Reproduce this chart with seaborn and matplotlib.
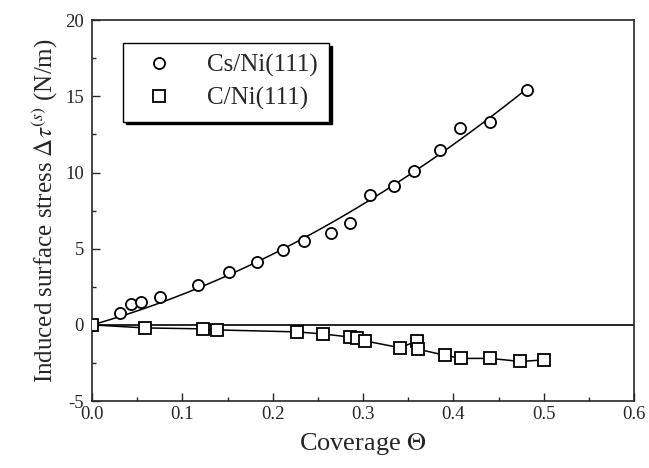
import matplotlib.pyplot as plt
import seaborn as sns
import pandas as pd
import numpy as np

# values
cs_x = [0.0, 0.031, 0.043, 0.054, 0.075, 0.117, 0.152, 0.182, 0.211, 0.235,
        0.264, 0.286, 0.308, 0.334, 0.356, 0.385, 0.407, 0.441, 0.481]
cs_y = [0.0, 0.8, 1.4, 1.5, 1.8, 2.6, 3.5, 4.1, 4.9, 5.5,
        6.0, 6.7, 8.5, 9.1, 10.1, 11.5, 12.9, 13.3, 15.4]

c_x = [0.0, 0.059, 0.123, 0.138, 0.227, 0.256, 0.286, 0.293, 0.302,
       0.341, 0.360, 0.361, 0.391, 0.408, 0.441, 0.474, 0.500]
c_y = [0.0, -0.2, -0.26, -0.33, -0.46, -0.6, -0.8, -0.85, -1.05,
       -1.5, -1.05, -1.6, -2.0, -2.2, -2.2, -2.4, -2.3]

cs = pd.DataFrame({'Coverage': cs_x, 'Stress': cs_y})
c = pd.DataFrame({'Coverage': c_x, 'Stress': c_y})

# least-squares fit through the origin (a*x + b*x^2) for the Cs data
xa = np.array(cs_x)
coef, *_ = np.linalg.lstsq(np.column_stack([xa, xa**2]), np.array(cs_y), rcond=None)
xf = np.linspace(0, max(cs_x), 100)
fit = pd.DataFrame({'Coverage': xf, 'Stress': coef[0] * xf + coef[1] * xf**2})

sns.set_style('ticks')
plt.rcParams['font.family'] = ['Liberation Serif', 'DejaVu Serif']
plt.rcParams['mathtext.fontset'] = 'stix'
plt.rcParams['axes.unicode_minus'] = False

fig = plt.figure(figsize=(6.49, 4.68), dpi=100)
ax = fig.add_axes([0.142, 0.143, 0.835, 0.814])

ax.axhline(0, color='black', lw=1.2, zorder=1)

# Cs: fit curve + open circles
sns.lineplot(x='Coverage', y='Stress', data=fit, ax=ax, color='black', lw=1.1,
             zorder=2)
ax.plot(cs['Coverage'], cs['Stress'], 'o', ms=8, mfc='white', mec='black',
        mew=1.3, label='Cs/Ni(111)', zorder=3)

# C: connected squares
sns.lineplot(x='Coverage', y='Stress', data=c, ax=ax, sort=False, estimator=None,
             color='black', lw=1.1, zorder=2)
ax.plot(c['Coverage'], c['Stress'], 's', ms=8, mfc='white', mec='black',
        mew=1.3, label='C/Ni(111)', zorder=3)

ax.set_xlim(0, 0.6)
ax.set_ylim(-5, 20)
ax.set_xticks([0.0, 0.1, 0.2, 0.3, 0.4, 0.5, 0.6])
ax.set_xticklabels(['0.0', '0.1', '0.2', '0.3', '0.4', '0.5', '0.6'])
ax.set_yticks([-5, 0, 5, 10, 15, 20])
ax.set_xticks([0.05, 0.15, 0.25, 0.35, 0.45, 0.55], minor=True)
ax.set_yticks([-2.5, 2.5, 7.5, 12.5, 17.5], minor=True)
ax.tick_params(which='both', direction='in', top=False, right=False, labelsize=13.5)
ax.tick_params(which='major', length=6, width=1)
ax.tick_params(which='minor', length=3, width=1)
ax.tick_params(axis='y', pad=6)
for s in ax.spines.values():
    s.set_linewidth(1.2)
    s.set_visible(True)

ax.set_xlabel('Coverage $\\Theta$', fontsize=19, labelpad=6)
ax.set_ylabel('Induced surface stress $\\Delta\\tau^{(s)}$ (N/m)', fontsize=18,
              labelpad=4)

ax.legend(loc='upper left', bbox_to_anchor=(0.057, 0.94), fontsize=18,
          frameon=True, fancybox=False, edgecolor='black', framealpha=1,
          shadow={'color': 'black', 'alpha': 1}, handletextpad=0.9,
          borderpad=0.45, labelspacing=0.4, borderaxespad=0)

fig.savefig('out.png', dpi=100)
